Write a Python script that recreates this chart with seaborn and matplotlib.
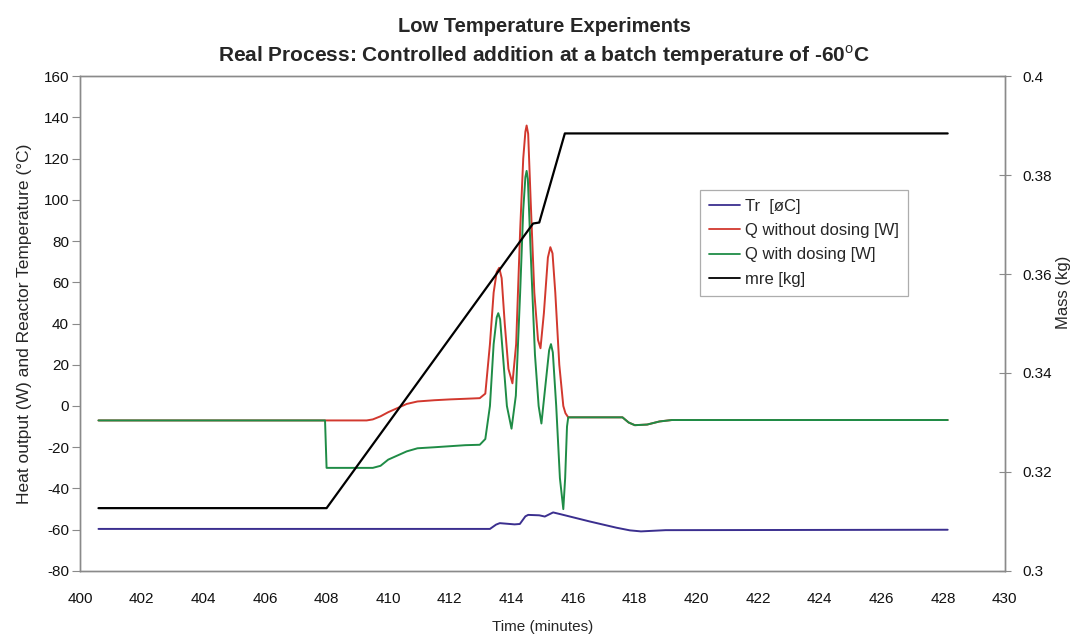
import matplotlib
matplotlib.use("Agg")
import matplotlib.pyplot as plt
from matplotlib import font_manager
from matplotlib.lines import Line2D
import seaborn as sns
import pandas as pd

# ---------------- data ----------------
tr_time = [400.6, 413.3, 413.5, 413.62, 414.1, 414.27, 414.45, 414.54, 414.9, 415.08,
           415.35, 415.6, 416.54, 417.4, 417.84, 418.2, 419.0, 428.15]
tr_vals = [-59.6, -59.6, -57.5, -56.8, -57.4, -57.2, -53.5, -52.8, -53.0, -53.6,
           -51.6, -52.5, -56.0, -59.0, -60.3, -60.8, -60.2, -60.0]

qwo_time = [400.6, 409.3, 409.5, 409.75, 410.0, 410.3, 410.6, 410.95, 411.5, 412.0,
            412.5, 412.97, 413.15, 413.3, 413.42, 413.52, 413.6, 413.68, 413.78, 413.9,
            414.03, 414.15, 414.28, 414.38, 414.45, 414.49, 414.54, 414.62, 414.74, 414.86,
            414.94, 415.05, 415.18, 415.26, 415.33, 415.42, 415.55, 415.68, 415.75,
            415.84, 417.6, 417.8, 418.0, 418.4, 418.8, 419.2, 428.15]
qwo_vals = [-7.0, -7.0, -6.5, -5.0, -3.0, -1.0, 1.0, 2.2, 2.8, 3.2,
            3.5, 3.8, 6.0, 30.0, 55.0, 65.0, 67.0, 62.0, 40.0, 18.0,
            11.0, 30.0, 85.0, 120.0, 133.0, 136.0, 132.0, 100.0, 55.0, 32.0,
            28.0, 45.0, 72.0, 77.0, 74.0, 55.0, 20.0, 0.0, -3.5,
            -5.5, -5.5, -8.0, -9.3, -9.0, -7.5, -6.8, -6.8]

qw_time = [400.6, 407.95, 408.0, 409.5, 409.75, 410.0, 410.3, 410.6, 410.95, 411.5,
           412.0, 412.5, 412.97, 413.15, 413.3, 413.42, 413.52, 413.57, 413.63, 413.72,
           413.85, 414.0, 414.14, 414.28, 414.38, 414.45, 414.49, 414.53, 414.62, 414.76,
           414.88, 414.97, 415.1, 415.22, 415.28, 415.34, 415.45, 415.57, 415.68, 415.74,
           415.8, 415.84, 417.6, 417.8, 418.0, 418.4, 418.8, 419.2, 428.15]
qw_vals = [-7.0, -7.0, -30.0, -30.0, -29.0, -26.0, -24.0, -22.0, -20.5, -20.0,
           -19.5, -19.0, -18.8, -16.0, 0.0, 30.0, 43.0, 45.0, 42.0, 25.0,
           0.0, -11.0, 5.0, 55.0, 95.0, 111.0, 114.0, 110.0, 75.0, 25.0,
           0.0, -8.5, 10.0, 27.0, 30.0, 26.0, 0.0, -35.0, -50.0, -35.0,
           -10.0, -5.5, -5.5, -8.0, -9.3, -9.0, -7.5, -6.8, -6.8]

mre_time = [400.6, 408.0, 414.7, 414.9, 415.73, 428.15]
mre_vals = [0.3127, 0.3127, 0.3702, 0.3704, 0.3884, 0.3884]

series_labels = ["Tr  [øC]", "Q without dosing [W]", "Q with dosing [W]", "mre [kg]"]
series_colors = ["#3b2f8f", "#d2382e", "#1f8c46", "#000000"]

title_lines = ["Low Temperature Experiments",
               r"Real Process: Controlled addition at a batch temperature of -60$^{\mathrm{o}}$C"]
x_label = "Time (minutes)"
y_label = "Heat output (W) and Reactor Temperature (°C)"
y2_label = "Mass (kg)"

# ---------------- style ----------------
sns.set_theme(style="white")
avail = {f.name for f in font_manager.fontManager.ttflist}
base_font = "Liberation Sans" if "Liberation Sans" in avail else "DejaVu Sans"
plt.rcParams["font.family"] = [base_font, "DejaVu Sans"]
plt.rcParams["axes.unicode_minus"] = False
plt.rcParams["mathtext.fontset"] = "custom"
plt.rcParams["mathtext.rm"] = base_font
plt.rcParams["mathtext.bf"] = base_font + ":bold"

fig = plt.figure(figsize=(10.78, 6.35), dpi=100)
ax = fig.add_axes([0.0742, 0.1008, 0.8578, 0.7795])
ax2 = ax.twinx()

df_tr = pd.DataFrame({"t": tr_time, "v": tr_vals})
df_qwo = pd.DataFrame({"t": qwo_time, "v": qwo_vals})
df_qw = pd.DataFrame({"t": qw_time, "v": qw_vals})
df_m = pd.DataFrame({"t": mre_time, "v": mre_vals})

lw = 1.4
sns.lineplot(data=df_tr, x="t", y="v", ax=ax, color=series_colors[0], lw=lw, sort=False, estimator=None)
sns.lineplot(data=df_qwo, x="t", y="v", ax=ax, color=series_colors[1], lw=lw, sort=False, estimator=None)
sns.lineplot(data=df_qw, x="t", y="v", ax=ax, color=series_colors[2], lw=lw, sort=False, estimator=None)
sns.lineplot(data=df_m, x="t", y="v", ax=ax2, color=series_colors[3], lw=1.6, sort=False, estimator=None)

ax.set_xlim(400, 430)
ax.set_ylim(-80, 160)
ax2.set_ylim(0.3, 0.4)
ax.set_xticks(range(400, 431, 2))
ax.set_yticks(range(-80, 161, 20))
ax2.set_yticks([0.3, 0.32, 0.34, 0.36, 0.38, 0.4])
ax2.set_yticklabels(["0.3", "0.32", "0.34", "0.36", "0.38", "0.4"])

spine_color = "#8a8a8a"
for a in (ax, ax2):
    for s in a.spines.values():
        s.set_color(spine_color)
        s.set_linewidth(1.0)
    a.grid(False)
ax.tick_params(axis="both", direction="out", length=6, width=0.8, color=spine_color,
               labelsize=11, colors="#111111")
ax.tick_params(axis="y", pad=2)
ax.tick_params(axis="x", pad=9)
ax2.tick_params(axis="y", direction="inout", length=8, width=0.8, color=spine_color,
                labelsize=11, colors="#111111", pad=9)

ax.set_xlabel(x_label, fontsize=11, labelpad=10)
ax.set_ylabel(y_label, fontsize=12.5, labelpad=8)
ax2.set_ylabel(y2_label, fontsize=12, labelpad=10)
ax2.yaxis.set_label_coords(1.055, 0.564)

fig.text(0.505, 0.958, title_lines[0], ha="center", va="center", fontsize=14.5,
         fontweight="bold")
fig.text(0.505, 0.913, title_lines[1], ha="center", va="center", fontsize=15,
         fontweight="bold")

handles = [Line2D([0], [0], color=c, lw=1.3) for c in series_colors]
leg = ax.legend(handles, series_labels, loc="upper left", bbox_to_anchor=(0.670, 0.77),
                fontsize=12, frameon=True, fancybox=False, handlelength=1.9,
                handletextpad=0.25, borderpad=0.55, labelspacing=0.55, borderaxespad=0)
leg.get_frame().set_edgecolor("#999999")
leg.get_frame().set_linewidth(0.9)
leg.set_zorder(10)

fig.savefig("out.png", dpi=100, facecolor="white")
